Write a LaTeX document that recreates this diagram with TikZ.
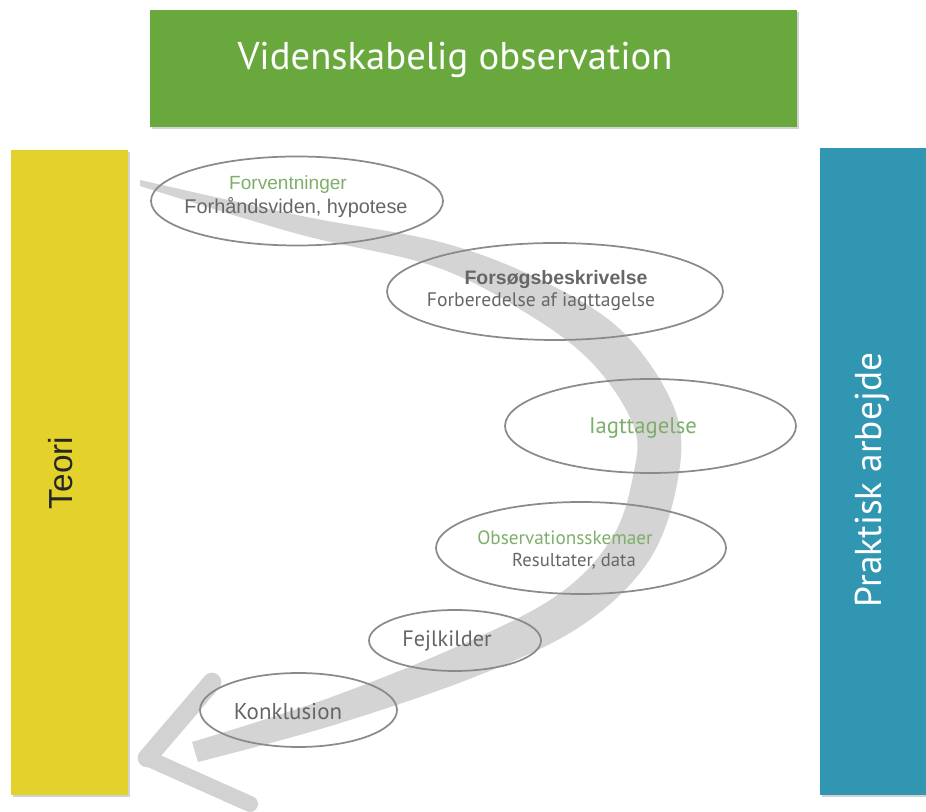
\documentclass[tikz,border=0pt]{standalone}
\usepackage{fontspec}
\setmainfont{Liberation Sans}
\newfontfamily\myr{PT Sans}
\usetikzlibrary{shadows,shapes.geometric}
\definecolor{boxgreen}{HTML}{68A83C}
\definecolor{boxyellow}{HTML}{E3D12C}
\definecolor{boxblue}{HTML}{3196B2}
\definecolor{txtgreen}{HTML}{7DAE6A}
\definecolor{txtgray}{HTML}{666666}
\definecolor{brush}{HTML}{D2D2D2}
\definecolor{ellgray}{HTML}{8A8A8A}
\tikzset{
  panel/.style={inner sep=0pt, drop shadow={opacity=0.35, shadow xshift=1.2pt, shadow yshift=-1.8pt}},
  stage/.style={draw=ellgray, line width=1.3pt, ellipse, inner sep=0pt},
  lbl/.style={inner sep=0pt, anchor=center},
}
\begin{document}
\begin{tikzpicture}[x=0.75pt,y=-0.75pt]
\useasboundingbox (0,0) rectangle (926,812);
% panels
\node[panel, fill=boxgreen, minimum width=647*0.75pt, minimum height=117*0.75pt] (top) at (473.5,68.5) {};
\node[panel, fill=boxyellow, minimum width=117*0.75pt, minimum height=645*0.75pt] (left) at (69.5,472.5) {};
\node[panel, fill=boxblue, minimum width=108*0.75pt, minimum height=647*0.75pt] (right) at (874,471.5) {};
\node[lbl, text=white, font=\myr\fontsize{29}{33}\selectfont] (toptxt) at (455,60) {Videnskabelig observation};
\node[lbl, text=black!85, rotate=90, font=\fontsize{25}{30}\selectfont] (lefttxt) at (61,473) {Teori};
\node[lbl, text=white, rotate=90, font=\myr\fontsize{28}{32}\selectfont] (righttxt) at (872,480) {Praktisk arbejde};
% brush arrow
\fill[brush, opacity=0.95]
  plot[smooth, tension=0.6] coordinates {(140,180) (302,216) (444,243) (549,284) (626,335) (676,413) (677,484) (648,562) (581,626) (477,676) (334,725) (198,762)}
  -- plot[smooth, tension=0.6] coordinates {(192,742) (326,699) (463,644) (559,594) (612,538) (633,476) (634,427) (594,365) (531,316) (436,267) (298,234) (140,186)}
  -- cycle;
\coordinate (tip) at (147,758);
\coordinate (barbA) at (212,682);
\coordinate (barbB) at (250,804);
\draw[brush, line width=14pt, line cap=round] (tip) -- (barbA);
\draw[brush, line width=12pt, line cap=round] (tip) -- (barbB);
% ellipses
\node[stage, minimum width=292*0.75pt, minimum height=89*0.75pt] (e1) at (297,201) {};
\node[lbl, text=txtgreen, font=\fontsize{14.3}{17}\selectfont] (e1a) at (288,185) {Forventninger};
\node[lbl, text=txtgray, font=\fontsize{14.9}{18}\selectfont] (e1b) at (296,208) {Forhåndsviden, hypotese};
\node[stage, minimum width=336*0.75pt, minimum height=97*0.75pt] (e2) at (555,291.5) {};
\node[lbl, text=txtgray, font=\bfseries\fontsize{14.6}{17}\selectfont] (e2a) at (556,280) {Forsøgsbeskrivelse};
\node[lbl, text=txtgray, font=\myr\fontsize{14.7}{17}\selectfont] (e2b) at (541,302) {Forberedelse af iagttagelse};
\node[stage, minimum width=291*0.75pt, minimum height=94*0.75pt] (e3) at (650.5,426) {};
\node[lbl, text=txtgreen, font=\myr\fontsize{17}{20}\selectfont] (e3a) at (643,428) {Iagttagelse};
\node[stage, minimum width=290*0.75pt, minimum height=92*0.75pt] (e4) at (581,548) {};
\node[lbl, text=txtgreen, font=\myr\fontsize{14.4}{17}\selectfont] (e4a) at (565,538) {Observationsskemaer};
\node[lbl, text=txtgray, font=\myr\fontsize{14}{17}\selectfont] (e4b) at (574,561) {Resultater, data};
\node[stage, minimum width=172*0.75pt, minimum height=61*0.75pt] (e5) at (455,640.5) {};
\node[lbl, text=txtgray, font=\myr\fontsize{16.7}{20}\selectfont] (e5a) at (447,641) {Fejlkilder};
\node[stage, minimum width=197*0.75pt, minimum height=74*0.75pt] (e6) at (298.5,710) {};
\node[lbl, text=txtgray, font=\myr\fontsize{17.2}{20}\selectfont] (e6a) at (288,712) {Konklusion};
\end{tikzpicture}
\end{document}
